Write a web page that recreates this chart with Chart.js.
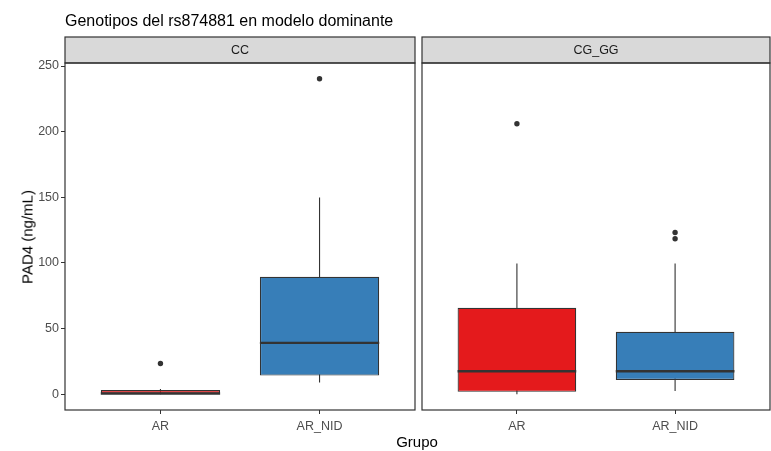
<!DOCTYPE html>
<html>
<head>
<meta charset="utf-8">
<script src="https://cdn.jsdelivr.net/npm/chart.js@4"></script>
<style>
body { margin: 0; background: #fff; font-family: "Liberation Sans", Arial, sans-serif; }
#wrap { position: relative; width: 771px; height: 451px; overflow: hidden; }
canvas { position: absolute; top: 0; }
#title { position: absolute; left: 65px; top: 13px; font-size: 16px; line-height: 16px; color: #000; white-space: nowrap; }
#ylab { position: absolute; left: 27px; top: 237px; transform: translate(-50%, -50%) rotate(-90deg); font-size: 15px; color: #000; white-space: nowrap; }
#xlab { position: absolute; left: 417px; top: 441px; transform: translate(-50%, -50%); font-size: 15px; color: #000; }
</style>
</head>
<body>
<div id="wrap">
  <canvas id="cc" width="416" height="451" style="left:0"></canvas>
  <canvas id="cg" width="350" height="451" style="left:421px"></canvas>
  <div id="title">Genotipos del rs874881 en modelo dominante</div>
  <div id="ylab">PAD4 (ng/mL)</div>
  <div id="xlab">Grupo</div>
</div>
<script>
const groups = ['AR', 'AR_NID'];
const facets = ['CC', 'CG_GG'];
const fills = ['#E41A1C', '#377EB8'];

// facet CC
const ccLower = [0, 8.9];
const ccQ1 = [0, 14.2];
const ccMedian = [0.6, 39.1];
const ccQ3 = [3.2, 89.4];
const ccUpper = [3.9, 149.9];
const ccOutliers = [[23.4], [240.3]];

// facet CG_GG
const cgLower = [0, 2.5];
const cgQ1 = [1.8, 10.9];
const cgMedian = [17.5, 17.5];
const cgQ3 = [65.8, 47.5];
const cgUpper = [99.6, 99.6];
const cgOutliers = [[206], [123.2, 118.4]];

const yTicks = [0, 50, 100, 150, 200, 250];

// shared y range, ggplot style 5% expansion
const allVals = [].concat(ccLower, ccUpper, cgLower, cgUpper, ccOutliers.flat(), cgOutliers.flat());
const lo = Math.min(...allVals), hi = Math.max(...allVals);
const yMin = lo - 0.05 * (hi - lo), yMax = hi + 0.05 * (hi - lo);

const boxW = 0.75;
const ink = '#333333';
const font = '"Liberation Sans", Arial, sans-serif';

function boxDatasets(s) {
  const whisk = [], med = [], out = [];
  groups.forEach((g, i) => {
    const x = i + 1;
    if (i) { whisk.push({x: x, y: null}); med.push({x: x, y: null}); }
    whisk.push({x: x, y: s.lower[i]}, {x: x, y: s.upper[i]});
    med.push({x: x - boxW / 2, y: s.median[i]}, {x: x + boxW / 2, y: s.median[i]});
    s.outliers[i].forEach(v => out.push({x: x, y: v}));
  });
  return [
    {type: 'line', data: whisk, borderColor: ink, borderWidth: 1.1, pointRadius: 0, order: 3},
    {type: 'bar', data: groups.map((g, i) => ({x: i + 1, y: [s.q1[i], s.q3[i]]})),
      backgroundColor: fills, borderColor: ink, borderWidth: 1.2, borderSkipped: false,
      barPercentage: boxW, categoryPercentage: 1, order: 2},
    {type: 'line', data: med, borderColor: ink, borderWidth: 2.4, pointRadius: 0, order: 1},
    {type: 'scatter', data: out, backgroundColor: ink, borderWidth: 0, pointRadius: 2.7, order: 0}
  ];
}

const facetPlugin = {
  id: 'facet',
  afterDatasetsDraw(chart, args, opts) {
    const ctx = chart.ctx, a = chart.chartArea;
    ctx.save();
    ctx.strokeStyle = ink;
    ctx.lineWidth = 1.2;
    ctx.fillStyle = '#D9D9D9';
    ctx.fillRect(a.left, 37, a.right - a.left, a.top - 37);
    ctx.strokeRect(a.left, 37, a.right - a.left, a.top - 37);
    ctx.strokeRect(a.left, a.top, a.right - a.left, a.bottom - a.top);
    ctx.fillStyle = '#1A1A1A';
    ctx.font = '12.5px ' + font;
    ctx.textAlign = 'center';
    ctx.textBaseline = 'middle';
    ctx.fillText(opts.label, (a.left + a.right) / 2, (37 + a.top) / 2 + 1);
    ctx.restore();
  }
};

function makeChart(id, label, s, showY, padding) {
  return new Chart(document.getElementById(id), {
    type: 'bar',
    data: {datasets: boxDatasets(s)},
    options: {
      responsive: false,
      maintainAspectRatio: false,
      devicePixelRatio: 1,
      animation: false,
      layout: {padding: padding, autoPadding: false},
      plugins: {legend: {display: false}, tooltip: {enabled: false}, facet: {label: label}},
      scales: {
        x: {
          type: 'linear', min: 0.4, max: 2.6, offset: false,
          afterBuildTicks: sc => { sc.ticks = groups.map((g, i) => ({value: i + 1})); },
          afterFit: sc => { sc.height = 41; sc.paddingLeft = 0; sc.paddingRight = 0; },
          ticks: {
            callback: v => groups[v - 1], autoSkip: false, maxRotation: 0,
            color: '#4D4D4D', font: {family: font, size: 12.5}, padding: 5
          },
          grid: {drawOnChartArea: false, offset: false, tickLength: 4, color: ink},
          border: {display: false}
        },
        y: {
          display: showY, min: yMin, max: yMax,
          afterBuildTicks: sc => { sc.ticks = yTicks.map(v => ({value: v})); },
          afterFit: sc => { sc.width = showY ? 65 : 0; sc.paddingTop = 0; sc.paddingBottom = 0; },
          ticks: {color: '#4D4D4D', font: {family: font, size: 12.5}, padding: 2},
          grid: {drawOnChartArea: false, tickLength: 4, color: ink},
          border: {display: false}
        }
      }
    },
    plugins: [facetPlugin]
  });
}

makeChart('cc', facets[0], {lower: ccLower, q1: ccQ1, median: ccMedian, q3: ccQ3, upper: ccUpper, outliers: ccOutliers},
  true, {top: 63, right: 1, bottom: 0, left: 0});
makeChart('cg', facets[1], {lower: cgLower, q1: cgQ1, median: cgMedian, q3: cgQ3, upper: cgUpper, outliers: cgOutliers},
  false, {top: 63, right: 1, bottom: 0, left: 1});
</script>
</body>
</html>
